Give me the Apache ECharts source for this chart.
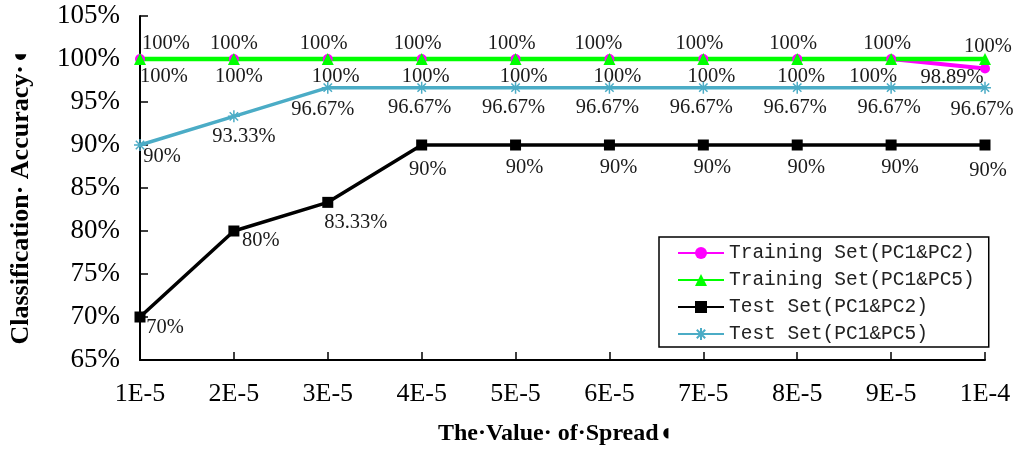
<!DOCTYPE html>
<html>
	<head>
		<meta charset="UTF-8">
		<title>Classification Accuracy</title>
		<script src="https://cdn.jsdelivr.net/npm/echarts@6/dist/echarts.min.js"></script>
		<style type="text/css">
			html, body {
				margin: 0;
				padding: 0;
				background: #fff;
			}
			#chart {
				width: 1024px;
				height: 454px;
			}
		</style>
	</head>
	<body>
		<div id="chart"></div>
		<script type="text/javascript">
			// spread values on the x axis
			var spreads = ['1E-5', '2E-5', '3E-5', '4E-5', '5E-5', '6E-5', '7E-5', '8E-5', '9E-5', '1E-4'];
			// accuracy in %
			var trainPC12 = [100, 100, 100, 100, 100, 100, 100, 100, 100, 98.89];
			var trainPC15 = [100, 100, 100, 100, 100, 100, 100, 100, 100, 100];
			var testPC12 = [70, 80, 83.33, 90, 90, 90, 90, 90, 90, 90];
			var testPC15 = [90, 93.33, 96.67, 96.67, 96.67, 96.67, 96.67, 96.67, 96.67, 96.67];
			var seriesNames = ['Training Set(PC1&PC2)', 'Training Set(PC1&PC5)', 'Test Set(PC1&PC2)', 'Test Set(PC1&PC5)'];

			var serif = '"Liberation Serif", "Times New Roman", serif';

			// label placement: default offset per series, a few points nudged like the original
			function withLabels(values, base, nudge) {
				return values.map(function(v, i) {
					return {
						value: v,
						label: { offset: nudge[i] || base }
					};
				});
			}

			function pct(p) {
				return p.value + '%';
			}

			var labelStyle = {
				show: true,
				position: 'inside',
				fontFamily: serif,
				fontSize: 20.5,
				color: '#1a1a1a',
				formatter: pct
			};

			var chart = echarts.init(document.getElementById('chart'));
			var option = {
				animation: false,
				backgroundColor: '#fff',
				grid: {
					left: 139,
					right: 39,
					top: 16,
					bottom: 94
				},
				legend: {
					orient: 'vertical',
					left: 659,
					top: 237,
					padding: [6, 14, 3, 18],
					itemWidth: 46,
					itemHeight: 15,
					itemGap: 7,
					backgroundColor: '#fff',
					borderColor: '#000',
					borderWidth: 1.5,
					textStyle: {
						fontFamily: '"Liberation Mono", monospace',
						fontSize: 19.5,
						lineHeight: 20,
						color: '#222'
					},
					data: seriesNames
				},
				xAxis: {
					type: 'category',
					data: spreads,
					boundaryGap: false,
					name: 'The·Value· of·Spread◖',
					nameLocation: 'middle',
					nameGap: 62,
					nameTextStyle: {
						fontFamily: serif,
						fontSize: 24,
						fontWeight: 'bold',
						color: '#000',
						verticalAlign: 'top',
						padding: [0, 14, 0, 0]
					},
					axisLine: { lineStyle: { color: '#000', width: 2 } },
					axisTick: { inside: true, length: 8, lineStyle: { color: '#000', width: 1.5 } },
					axisLabel: {
						fontFamily: serif,
						fontSize: 26,
						color: '#000',
						margin: 21
					},
					splitLine: { show: false }
				},
				yAxis: {
					type: 'value',
					min: 65,
					max: 105,
					interval: 5,
					name: 'Classification· Accuracy·◖',
					nameLocation: 'middle',
					nameRotate: 90,
					nameGap: 106,
					nameTextStyle: {
						fontFamily: serif,
						fontSize: 26,
						fontWeight: 'bold',
						color: '#000',
						padding: [0, 0, 0, -18]
					},
					axisLine: { show: true, lineStyle: { color: '#000', width: 2 } },
					axisTick: { show: true, inside: true, length: 8, lineStyle: { color: '#000', width: 1.5 } },
					axisLabel: {
						fontFamily: serif,
						fontSize: 27,
						color: '#000',
						margin: 20,
						formatter: '{value}%'
					},
					splitLine: { show: false }
				},
				series: [{
					name: seriesNames[0],
					type: 'line',
					data: withLabels(trainPC12, [8, 18], { 0: [24, 18], 1: [5, 18], 3: [4, 18], 7: [4, 18], 8: [-18, 18], 9: [-33, 9] }),
					symbol: 'circle',
					symbolSize: 10,
					lineStyle: { color: '#ff00ff', width: 4 },
					itemStyle: { color: '#ff00ff' },
					label: labelStyle
				}, {
					name: seriesNames[1],
					type: 'line',
					data: withLabels(trainPC15, [-4, -15], { 0: [26, -15], 1: [0, -15], 5: [-11, -15], 9: [3, -12] }),
					symbol: 'triangle',
					symbolSize: 12,
					lineStyle: { color: '#00ff00', width: 4.5 },
					itemStyle: { color: '#00ff00' },
					label: labelStyle
				}, {
					name: seriesNames[2],
					type: 'line',
					data: withLabels(testPC12, [9, 23], { 0: [25, 11], 1: [27, 10], 2: [28, 20], 3: [6, 25], 9: [3, 26] }),
					symbol: 'rect',
					symbolSize: 11,
					lineStyle: { color: '#000', width: 3.5 },
					itemStyle: { color: '#000' },
					label: labelStyle
				}, {
					name: seriesNames[3],
					type: 'line',
					data: withLabels(testPC15, [-2, 20], { 0: [22, 12], 1: [10, 20], 2: [-5, 22], 9: [-3, 22] }),
					symbol: 'path://M0,5L10,5M5,0L5,10M1.5,1.5L8.5,8.5M8.5,1.5L1.5,8.5',
					symbolSize: 12,
					lineStyle: { color: '#4bacc6', width: 3.5 },
					itemStyle: { color: '#4bacc6', borderColor: '#4bacc6', borderWidth: 1.5 },
					label: labelStyle
				}]
			};
			chart.setOption(option);
		</script>
	</body>
</html>
